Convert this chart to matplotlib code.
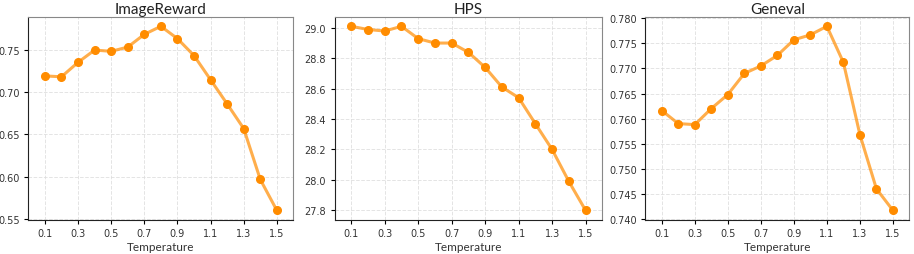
import matplotlib
matplotlib.use("Agg")
import matplotlib.pyplot as plt

temperature = [0.1, 0.2, 0.3, 0.4, 0.5, 0.6, 0.7, 0.8, 0.9, 1.0, 1.1, 1.2, 1.3, 1.4, 1.5]
image_reward = [0.719, 0.718, 0.735, 0.7495, 0.748, 0.753, 0.768, 0.7775, 0.763, 0.743,
                0.7145, 0.686, 0.657, 0.597, 0.5605]
hps = [29.009, 28.988, 28.978, 29.009, 28.928, 28.899, 28.899, 28.838, 28.739, 28.610,
       28.540, 28.369, 28.200, 27.990, 27.800]
geneval = [0.7616, 0.7590, 0.7588, 0.7620, 0.7648, 0.7690, 0.7705, 0.7726, 0.7757, 0.7767,
           0.7784, 0.7712, 0.7568, 0.7460, 0.7417]
xticks = [0.1, 0.3, 0.5, 0.7, 0.9, 1.1, 1.3, 1.5]
titles = ["ImageReward", "HPS", "Geneval"]
series = [image_reward, hps, geneval]
yticks = [
    [0.55, 0.60, 0.65, 0.70, 0.75],
    [27.8, 28.0, 28.2, 28.4, 28.6, 28.8, 29.0],
    [0.740, 0.745, 0.750, 0.755, 0.760, 0.765, 0.770, 0.775, 0.780],
]
yfmt = ["{:.2f}", "{:.1f}", "{:.3f}"]

fig = plt.figure(figsize=(9.14, 2.55), dpi=100)
rects = [
    [0.031, 0.135, 0.290, 0.794],
    [0.366, 0.135, 0.293, 0.794],
    [0.706, 0.135, 0.289, 0.794],
]
text_font = ["Lato", "DejaVu Sans"]
for rect, title, vals, yt, fmt in zip(rects, titles, series, yticks, yfmt):
    ax = fig.add_axes(rect)
    ax.plot(temperature, vals, color="#ff8c00", alpha=0.7, linewidth=2.2, zorder=2)
    ax.plot(temperature, vals, linestyle="none", marker="o", markersize=5.5,
            color="#ff8c00", zorder=3)
    ax.set_xlim(0.0, 1.6)
    ax.set_xticks(xticks)
    ax.set_xticklabels([f"{t:.1f}" for t in xticks])
    ax.set_yticks(yt)
    ax.set_yticklabels([fmt.format(v) for v in yt])
    ax.margins(y=0.05)
    ax.tick_params(labelsize=7, length=3, width=0.8, pad=3, labelcolor="#333333")
    ax.grid(True, linestyle="--", color="#dddddd", linewidth=0.7, alpha=0.8)
    ax.set_axisbelow(True)
    ax.set_title(title, fontsize=11, family=text_font, color="#222222", pad=3)
    ax.set_xlabel("Temperature", fontsize=8.5, family=text_font,
                  color="#333333", labelpad=2)
    for s in ["top", "right"]:
        ax.spines[s].set_color("#888888")
    for s in ["left", "bottom"]:
        ax.spines[s].set_color("#222222")

fig.savefig("out.png", dpi=100)
